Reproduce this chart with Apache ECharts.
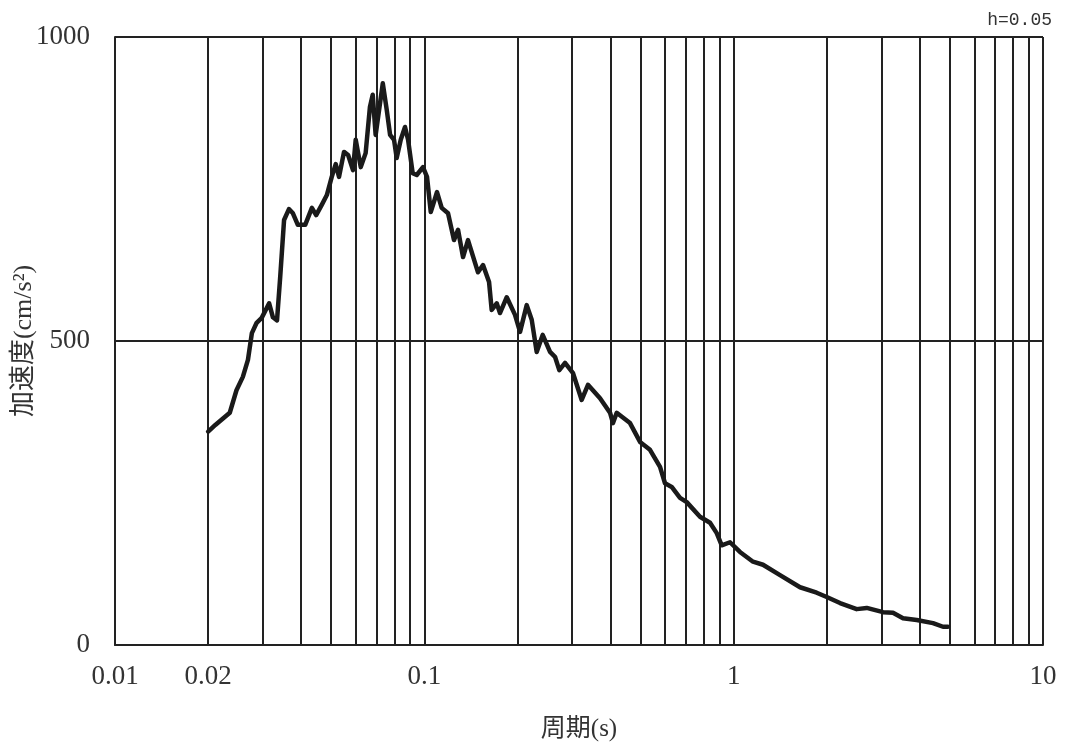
<!DOCTYPE html>
<html>
<head>
<meta charset="utf-8">
<script src="https://cdn.jsdelivr.net/npm/echarts@6/dist/echarts.min.js"></script>
<style>html,body{margin:0;padding:0;background:#fff;}#c{width:1065px;height:751px;}</style>
</head>
<body>
<div id="c"></div>
<script>
// Period (s)
const periods = [0.020,0.0211,0.0235,0.0247,0.0259,0.0269,0.0277,0.0287,0.0298,0.0315,0.0324,0.0334,0.0342,0.0352,0.0365,0.0376,0.0390,0.0412,0.0433,0.0447,0.0466,0.0484,0.0502,0.0517,0.0530,0.0550,0.0567,0.0588,0.0600,0.0610,0.0623,0.0646,0.0667,0.0681,0.0696,0.0734,0.0756,0.0775,0.0798,0.0814,0.0839,0.0866,0.0886,0.0917,0.0945,0.0990,0.1020,0.1049,0.1099,0.1138,0.1193,0.1247,0.1285,0.1334,0.1384,0.1491,0.1548,0.1619,0.1651,0.1714,0.1756,0.1847,0.1964,0.2039,0.2143,0.2224,0.2308,0.2413,0.2549,0.2645,0.2731,0.2850,0.3025,0.3226,0.3381,0.3698,0.3983,0.4073,0.4187,0.4623,0.4981,0.5364,0.5780,0.5998,0.6305,0.6708,0.7051,0.7783,0.8386,0.8815,0.9149,0.9731,1.048,1.155,1.244,1.412,1.639,1.855,1.999,2.207,2.498,2.692,3.040,3.274,3.527,3.906,4.410,4.750,4.93];
// Acceleration (cm/s^2)
const accel = [351,362,382,419,441,469,513,530,538,562,539,534,605,699,717,710,691,691,719,707,724,740,770,791,770,811,806,781,831,811,786,809,885,905,839,924,880,839,831,801,831,852,831,776,773,786,770,712,745,719,710,666,683,638,666,613,625,597,551,562,546,572,543,515,559,535,482,510,482,474,452,464,447,403,428,406,382,365,382,365,334,321,293,266,260,242,235,211,201,184,164,169,153,137,132,115,95,86,79,69,59,61,54,53,44,41,36,30,30];
// Grid line positions and labels on the period axis
const xGridValues = [0.01,0.02,0.03,0.04,0.05,0.06,0.07,0.08,0.09,0.1,0.2,0.3,0.4,0.5,0.6,0.7,0.8,0.9,1,2,3,4,5,6,7,8,9,10];
const xLabelValues = [0.01,0.02,0.1,1,10];
const xLabelTexts = {0.01:'0.01',0.02:'0.02',0.1:'0.1',1:'1',10:'10'};
const yTicks = [0,500,1000];

const chart = echarts.init(document.getElementById('c'), null, {renderer:'canvas'});
const serif = '"Liberation Serif","DejaVu Serif","Noto Sans CJK JP",serif';
const lineC = '#222';
chart.setOption({
  animation:false,
  backgroundColor:'#fff',
  title:{text:'h=0.05', right:8, top:6,
    textStyle:{fontSize:18, fontWeight:'normal', color:'#333', fontFamily:'"Liberation Mono","DejaVu Sans Mono",monospace'}},
  grid:{left:115, right:22, top:37, bottom:106, containLabel:false, outerBoundsMode:'none'},
  xAxis:{
    type:'log', logBase:10, min:0.01, max:10,
    name:'周期(s)', nameLocation:'middle', nameGap:72, nameMoveOverlap:false,
    nameTextStyle:{fontSize:25, color:'#333', fontFamily:serif},
    axisLine:{show:true, lineStyle:{color:lineC, width:2}},
    axisTick:{show:false, customValues:xGridValues},
    splitLine:{show:true, lineStyle:{color:lineC, width:2}},
    axisLabel:{customValues:xLabelValues, fontSize:27, color:'#333', fontFamily:serif, margin:18,
      formatter:v=>xLabelTexts[v] !== undefined ? xLabelTexts[v] : String(v)}
  },
  yAxis:{
    type:'value', min:0, max:1000, interval:500,
    name:'加速度(cm/s²)', nameLocation:'middle', nameGap:78, nameMoveOverlap:false,
    nameTextStyle:{fontSize:26, color:'#333', fontFamily:serif},
    axisLine:{show:true, lineStyle:{color:lineC, width:2}},
    axisTick:{show:false, customValues:yTicks},
    splitLine:{show:true, lineStyle:{color:lineC, width:2}},
    axisLabel:{customValues:yTicks, fontSize:27, color:'#333', fontFamily:serif, margin:25,
      formatter:v=>String(v)}
  },
  series:[{
    type:'line', showSymbol:false, symbol:'none',
    data: periods.map((p,i)=>[p, accel[i]]),
    lineStyle:{color:'#1a1a1a', width:4.5, join:'round', cap:'round'}
  }]
});
</script>
</body>
</html>
